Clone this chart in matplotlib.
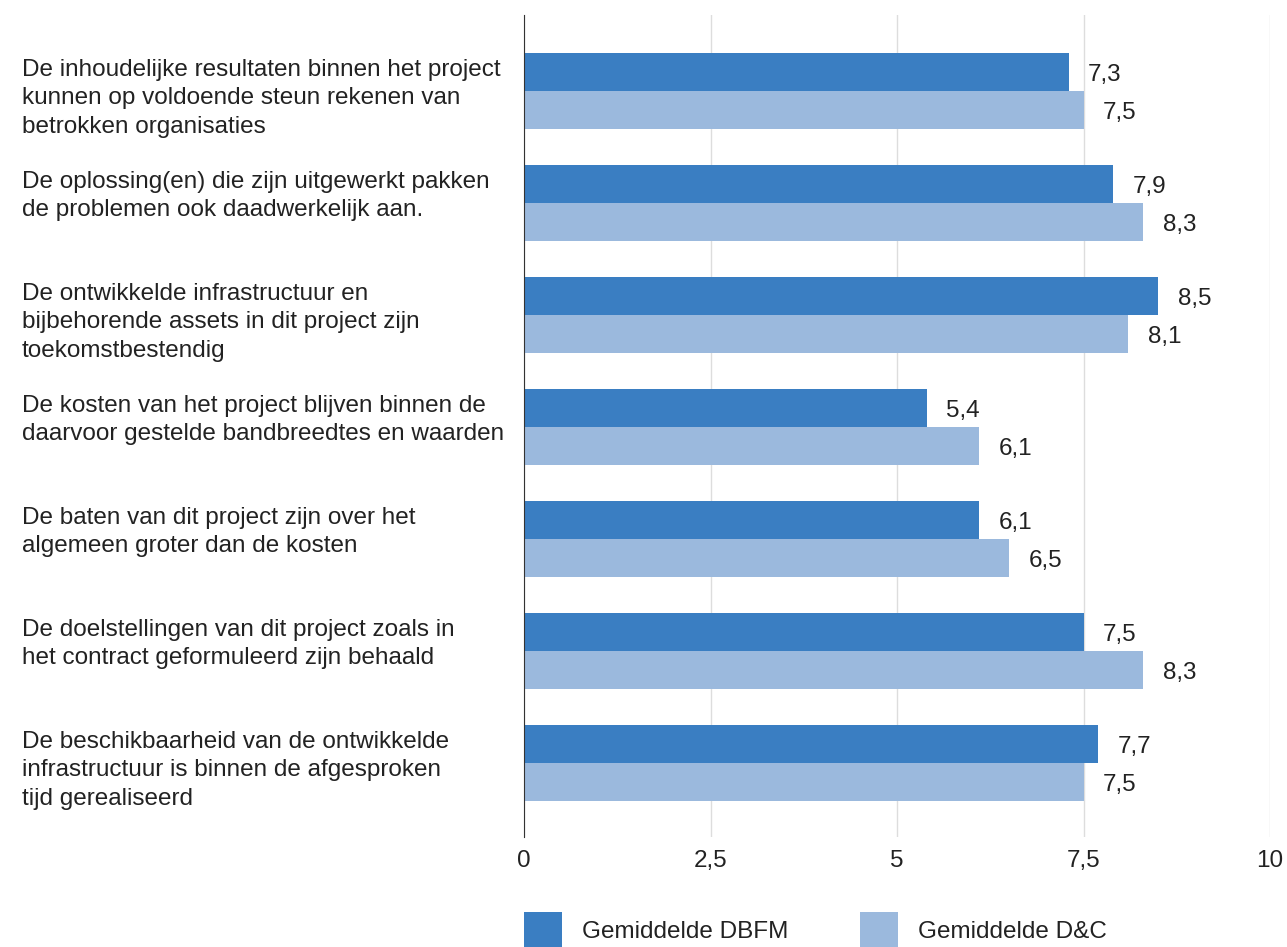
import matplotlib.pyplot as plt
import matplotlib.transforms as mtransforms
import numpy as np

plt.rcParams['font.family'] = ['Liberation Sans', 'DejaVu Sans']

statements = [
    "De inhoudelijke resultaten binnen het project\nkunnen op voldoende steun rekenen van\nbetrokken organisaties",
    "De oplossing(en) die zijn uitgewerkt pakken\nde problemen ook daadwerkelijk aan.",
    "De ontwikkelde infrastructuur en\nbijbehorende assets in dit project zijn\ntoekomstbestendig",
    "De kosten van het project blijven binnen de\ndaarvoor gestelde bandbreedtes en waarden",
    "De baten van dit project zijn over het\nalgemeen groter dan de kosten",
    "De doelstellingen van dit project zoals in\nhet contract geformuleerd zijn behaald",
    "De beschikbaarheid van de ontwikkelde\ninfrastructuur is binnen de afgesproken\ntijd gerealiseerd",
]
dbfm = [7.3, 7.9, 8.5, 5.4, 6.1, 7.5, 7.7]
dc = [7.5, 8.3, 8.1, 6.1, 6.5, 8.3, 7.5]
xticks = [0, 2.5, 5, 7.5, 10]
xtick_labels = ["0", "2,5", "5", "7,5", "10"]

dark = "#3a7ec2"
light = "#9bb9dd"
txt = "#222222"
fs = 17.5

fig = plt.figure(figsize=(12.87, 9.47), dpi=100)
ax = fig.add_axes([524 / 1287, 1 - 837 / 947, (1270 - 524) / 1287, (837 - 15) / 947])

y = np.arange(len(statements))
h = 0.34
ax.barh(y - h / 2, dbfm, height=h, color=dark, zorder=2, label="Gemiddelde DBFM")
ax.barh(y + h / 2, dc, height=h, color=light, zorder=2, label="Gemiddelde D&C")

# statement labels: x in figure coords, y in data coords
lab_tf = mtransforms.blended_transform_factory(fig.transFigure, ax.transData)
for i in range(len(statements)):
    ax.annotate(f"{dbfm[i]:.1f}".replace(".", ","), (dbfm[i], y[i] - h / 2),
                xytext=(14, -2), textcoords="offset points", va="center",
                fontsize=fs, color=txt)
    ax.annotate(f"{dc[i]:.1f}".replace(".", ","), (dc[i], y[i] + h / 2),
                xytext=(14, -2), textcoords="offset points", va="center",
                fontsize=fs, color=txt)
    fig.text(22 / 1287, y[i] - 0.29, statements[i], transform=lab_tf,
             ha="left", va="top", fontsize=fs, color=txt, linespacing=1.38)

ax.set_xlim(0, 10)
ax.set_ylim(len(statements) - 1 + 0.66, -0.68)
ax.set_xticks(xticks)
ax.set_xticklabels(xtick_labels, fontsize=fs, color=txt)
ax.set_yticks([])
ax.tick_params(axis="x", length=0, pad=9)
ax.grid(axis="x", color="#dddddd", linewidth=1, zorder=0)
for s in ["top", "right", "bottom"]:
    ax.spines[s].set_visible(False)
ax.spines["left"].set_color("#333333")
ax.spines["left"].set_zorder(3)

leg = fig.legend(loc="upper left", bbox_to_anchor=(524 / 1287, 1 - 912 / 947), ncol=2,
                 frameon=False, fontsize=fs, borderpad=0, borderaxespad=0,
                 handlelength=1.56, handleheight=1.98,
                 columnspacing=2.95, handletextpad=0.82)
for t in leg.get_texts():
    t.set_color(txt)

fig.savefig("out.png", dpi=100)
